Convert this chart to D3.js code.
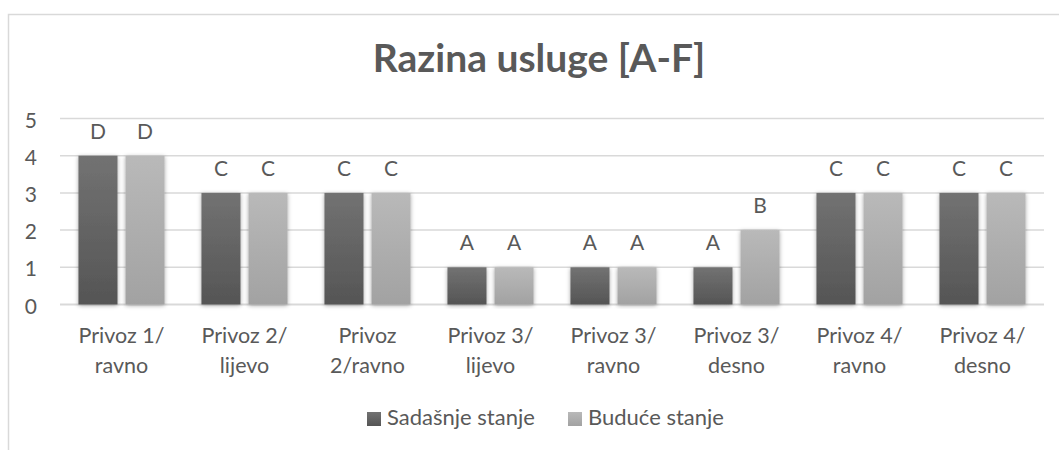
<!DOCTYPE html>
<html><head><meta charset="utf-8">
<script src="https://cdn.jsdelivr.net/npm/d3@7"></script>
<style>body{margin:0;background:#fff}svg{display:block}text{font-family:Lato,"Open Sans",sans-serif;fill:#595959}</style>
</head><body>
<svg id="c" width="1059" height="450"></svg>
<script>
const categories = [["Privoz 1/","ravno"],["Privoz 2/","lijevo"],["Privoz","2/ravno"],["Privoz 3/","lijevo"],["Privoz 3/","ravno"],["Privoz 3/","desno"],["Privoz 4/","ravno"],["Privoz 4/","desno"]];
const seriesNames = ["Sadašnje stanje","Buduće stanje"];
const current = [4,3,3,1,1,1,3,3];
const future = [4,3,3,1,1,2,3,3];
const currentLabels = ["D","C","C","A","A","A","C","C"];
const futureLabels = ["D","C","C","A","A","B","C","C"];
const yTicks = [0,1,2,3,4,5];
const title = "Razina usluge [A-F]";

const svg = d3.select("#c");
const defs = svg.append("defs");
const grads = [["g0","#727272","#555555"],["g1","#b9b9b9","#a2a2a2"]];
grads.forEach(([id,a,b])=>{
  const g = defs.append("linearGradient").attr("id",id).attr("x1",0).attr("y1",0).attr("x2",0).attr("y2",1);
  g.append("stop").attr("offset","0%").attr("stop-color",a);
  g.append("stop").attr("offset","100%").attr("stop-color",b);
});
const f = defs.append("filter").attr("id","sh").attr("x","-30%").attr("y","-10%").attr("width","160%").attr("height","120%");
f.append("feDropShadow").attr("dx",0).attr("dy",1).attr("stdDeviation",2).attr("flood-color","#000").attr("flood-opacity",0.35);

// chart border
svg.append("rect").attr("x",8.5).attr("y",14.5).attr("width",1100).attr("height",500)
  .attr("fill","none").attr("stroke","#d9d9d9").attr("stroke-width",1.5);

svg.append("text").attr("x",539).attr("y",72).attr("text-anchor","middle")
  .style("font-weight","bold").style("font-size","39px").text(title);

const x0 = d3.scaleBand().domain(d3.range(categories.length)).range([60,1044]).paddingInner(0.3).paddingOuter(0.15);
const x1 = d3.scaleBand().domain([0,1]).range([0,x0.bandwidth()]).paddingInner(0.17).paddingOuter(0);
const y = d3.scaleLinear().domain([0,5]).range([304.5,118.5]);

// gridlines
svg.append("g").selectAll("line").data(yTicks).join("line")
  .attr("x1",60).attr("x2",1044).attr("y1",d=>y(d)).attr("y2",d=>y(d))
  .attr("stroke","#d9d9d9").attr("stroke-width",d=>d===0?2:1.5);

// y axis labels
const yAxis = d3.axisLeft(y).tickValues(yTicks).tickSize(0).tickPadding(0).tickFormat(d3.format("d"));
const ya = svg.append("g").attr("transform","translate(37,0)").call(yAxis);
ya.select(".domain").remove();
ya.selectAll("text").attr("dy",null).attr("dominant-baseline","central").style("font-size","21px").style("font-family","Lato,sans-serif").attr("fill","#595959");

const data = [current,future];
const labels = [currentLabels,futureLabels];
data.forEach((vals,s)=>{
  const g = svg.append("g");
  g.selectAll("rect").data(vals).join("rect")
    .attr("x",(d,i)=>x0(i)+x1(s)).attr("width",x1.bandwidth())
    .attr("y",d=>y(d)).attr("height",d=>y(0)-y(d))
    .attr("fill",`url(#g${s})`).attr("filter","url(#sh)");
  g.selectAll("text").data(vals).join("text")
    .attr("x",(d,i)=>x0(i)+x1(s)+x1.bandwidth()/2).attr("y",d=>y(d)-17)
    .attr("text-anchor","middle").style("font-size","21px")
    .text((d,i)=>labels[s][i]);
});

// category labels
const cl = svg.append("g").selectAll("text").data(categories).join("text")
  .attr("x",(d,i)=>x0(i)+x0.bandwidth()/2).attr("y",343)
  .attr("text-anchor","middle").style("font-size","21.5px");
cl.selectAll("tspan").data(d=>d).join("tspan")
  .attr("x",function(){return this.parentNode.getAttribute("x");})
  .attr("dy",(d,i)=>i===0?0:29.5).text(d=>d);

// legend
const legX = [367,568];
seriesNames.forEach((n,s)=>{
  svg.append("rect").attr("x",legX[s]).attr("y",412).attr("width",14).attr("height",14).attr("fill",`url(#g${s})`);
  svg.append("text").attr("x",legX[s]+20).attr("y",425).style("font-size","22px").text(n);
});
</script>
</body></html>
